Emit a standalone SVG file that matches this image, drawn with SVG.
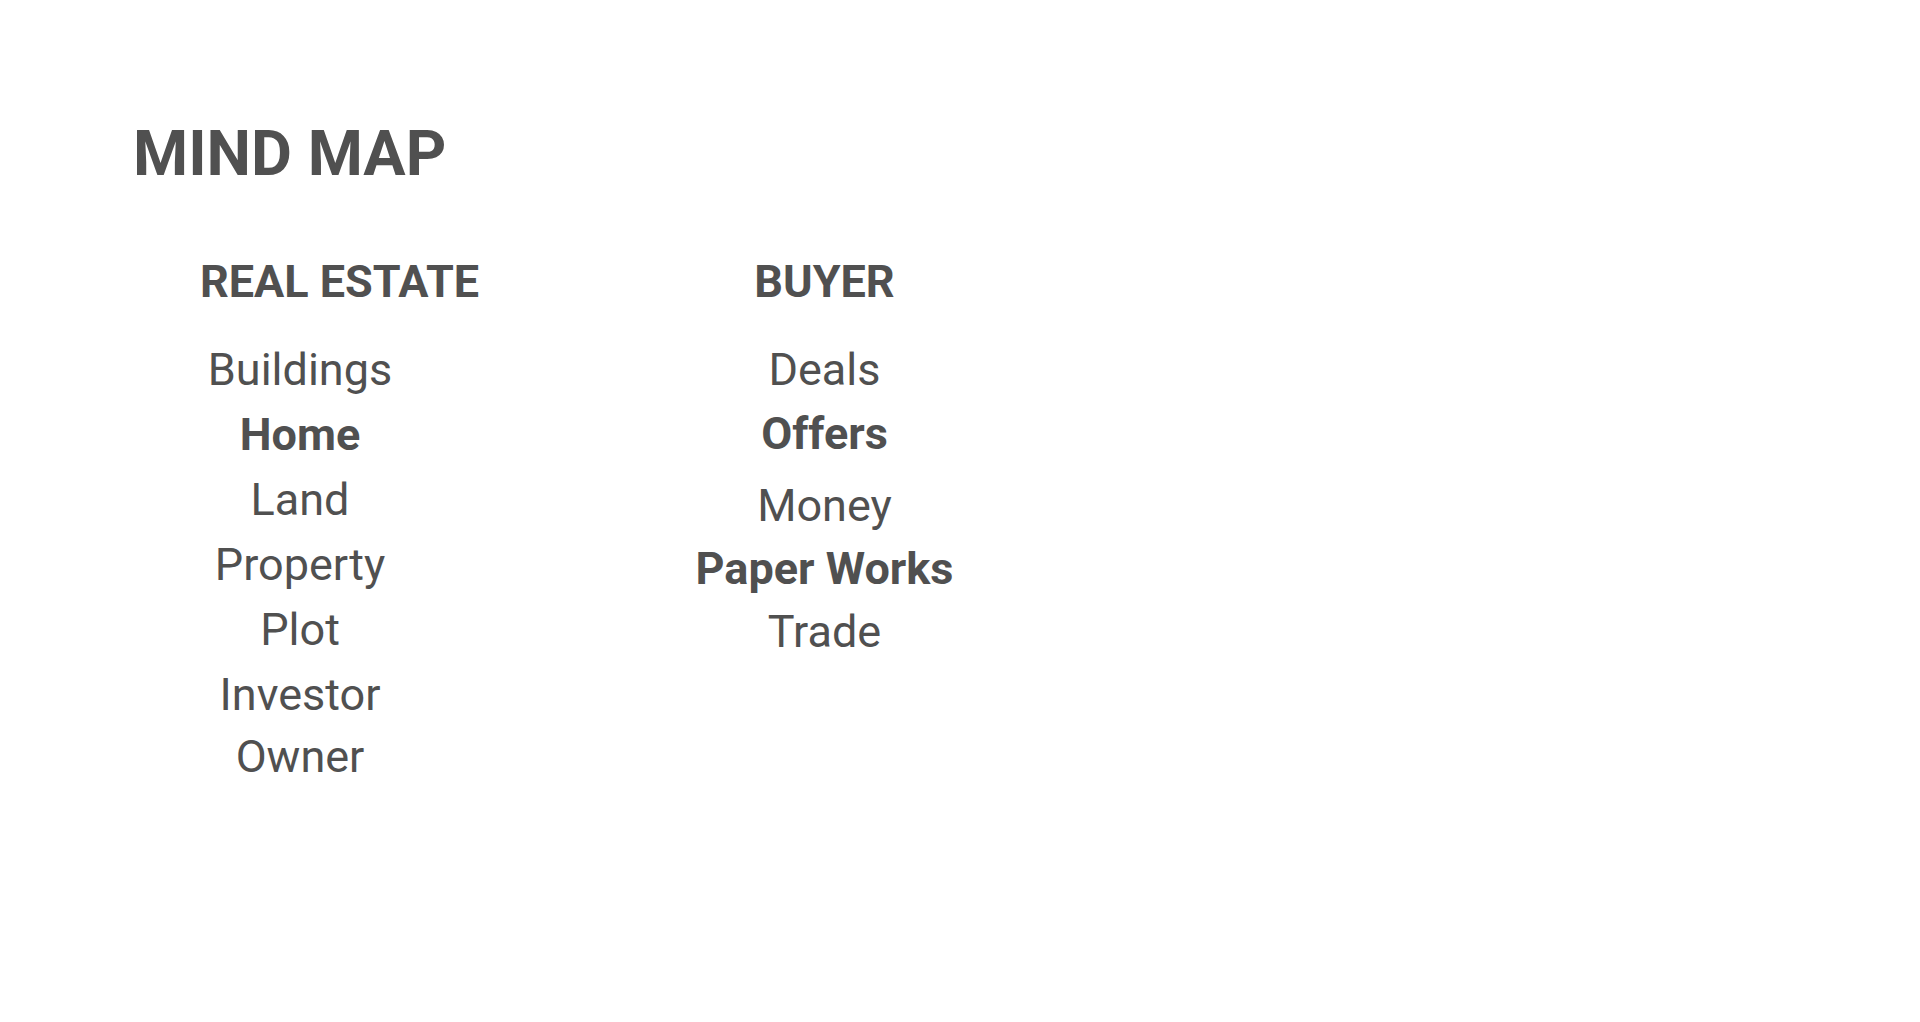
<svg xmlns="http://www.w3.org/2000/svg" width="1920" height="1022" viewBox="0 0 1920 1022">
<style>
text{font-family:Roboto,"Liberation Sans",sans-serif;fill:#505050;text-anchor:middle}
.title{font-size:63px;font-weight:700;text-anchor:start}
.head{font-size:45px;font-weight:700}
.item{font-size:45px;font-weight:400}
.bold{font-weight:700}
</style>
<rect width="1920" height="1022" fill="#ffffff"/>
<text class="title" x="133" y="175">MIND MAP</text>
<g id="real-estate">
<text class="head" x="339.5" y="297">REAL ESTATE</text>
<text class="item" x="300" y="385">Buildings</text>
<text class="item bold" x="300" y="450">Home</text>
<text class="item" x="300" y="515">Land</text>
<text class="item" x="300" y="580">Property</text>
<text class="item" x="300" y="645">Plot</text>
<text class="item" x="300" y="710">Investor</text>
<text class="item" x="300" y="772">Owner</text>
</g>
<g id="buyer">
<text class="head" x="824.5" y="297">BUYER</text>
<text class="item" x="824.5" y="385">Deals</text>
<text class="item bold" x="824.5" y="449">Offers</text>
<text class="item" x="824.5" y="521">Money</text>
<text class="item bold" x="824.5" y="584">Paper Works</text>
<text class="item" x="824.5" y="647">Trade</text>
</g>
<g id="connectors"/>
</svg>
